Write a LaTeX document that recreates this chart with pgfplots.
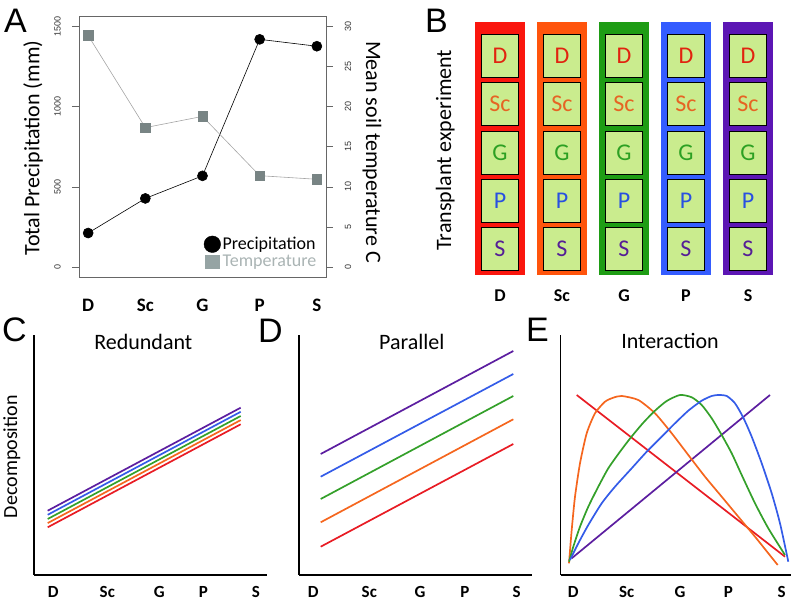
\documentclass[border=0pt]{standalone}
\usepackage{fontspec}
\setmainfont{Carlito}
\newfontfamily\arialf{Liberation Sans}
\usepackage{pgfplots}
\pgfplotsset{compat=1.18}
\newcommand\fs[1]{\fontsize{#1}{#1}\selectfont}

% line colours (C, D, E)
\definecolor{cR}{RGB}{232,28,36}
\definecolor{cO}{RGB}{245,102,30}
\definecolor{cG}{RGB}{52,160,42}
\definecolor{cB}{RGB}{52,92,232}
\definecolor{cP}{RGB}{92,30,160}
% columns in B
\definecolor{bR}{RGB}{250,22,14}
\definecolor{bO}{RGB}{255,84,12}
\definecolor{bG}{RGB}{30,156,20}
\definecolor{bB}{RGB}{52,92,255}
\definecolor{bP}{RGB}{92,22,180}
\definecolor{boxg}{RGB}{202,236,142}
% letters in B
\definecolor{lD}{RGB}{225,35,15}
\definecolor{lSc}{RGB}{230,100,35}
\definecolor{lG}{RGB}{45,160,35}
\definecolor{lP}{RGB}{40,80,225}
\definecolor{lS}{RGB}{85,30,150}
% panel A
\definecolor{tmark}{RGB}{120,132,132}
\definecolor{tline}{RGB}{165,165,165}
\definecolor{tleg}{RGB}{150,164,164}
\definecolor{tlegtext}{RGB}{170,180,180}

\pgfplotsset{
  concept/.style={scale only axis, width=232.4pt, height=240pt,
    xmin=0, xmax=232.4, ymin=0, ymax=240,
    axis x line*=bottom, axis y line*=left,
    axis line style={line width=1.8pt, -},
    xtick style={draw=none}, ytick=\empty, xticklabels={D,Sc,G,P,S},
    xticklabel style={font=\fs{17}\bfseries, yshift=-7.5pt},
    title style={font=\fs{22}, anchor=center}, clip=false},
  cl/.style={line width=1.7pt, line join=round},
  row/.style={only marks, mark=square*, mark size=18.3pt,
    mark options={yscale=1.172, fill=boxg, draw=black, line width=0.8pt},
    nodes near coords={#1}, point meta=explicit symbolic,
    every node near coord/.append style={anchor=center, font=\fs{24}}},
  rticks/.style={tick align=outside, major tick length=7pt,
    ytick style={black!60, line width=0.7pt},
    /pgf/number format/.cd, 1000 sep={}, assume math mode=true},
}

\begin{document}
\begin{tikzpicture}[x=1pt,y=1pt]
\useasboundingbox (0,0) rectangle (793,601);
\coordinate (pA) at (79,324);
\coordinate (pB) at (469,322.8);
\coordinate (pC) at (34.3,26);
\coordinate (pD) at (299.3,26);
\coordinate (pE) at (560.5,26);

% ---------------- A: precipitation (left scale) ----------------
\begin{axis}[at={(pA)}, anchor=south west, scale only axis,
  width=247pt, height=261pt,
  xmin=0.84, xmax=5.16, ymin=-62.4, ymax=1566.8,
  axis line style={black!60, line width=0.7pt},
  xtick={1,...,5}, xticklabels={D,Sc,G,P,S}, xtick style={draw=none},
  xticklabel style={font=\fs{19}\bfseries, yshift=-12pt},
  ytick={0,500,1000,1500}, ytick pos=left, rticks,
  yticklabel style={xshift=-14.5pt, rotate=90, anchor=center, font=\arialf\fs{9}, text=black!80},
  ylabel={Total Precipitation (mm)},
  ylabel style={font=\fs{22}, at={(axis description cs:-0.186,0.494)}, anchor=center},
  clip=false]
\addplot[black, line width=0.6pt, mark=*, mark size=5pt]
  coordinates {(1,212) (2,428) (3,569) (4,1421) (5,1378)};
\end{axis}

% ---------------- A: temperature (right scale) ----------------
\begin{axis}[at={(pA)}, anchor=south west, scale only axis,
  width=247pt, height=261pt,
  xmin=0.84, xmax=5.16, ymin=-1.248, ymax=31.336,
  axis x line=none, axis y line*=right,
  axis line style={black!60, line width=0.7pt, -},
  ytick={0,5,...,30}, rticks,
  yticklabel style={xshift=15pt, rotate=90, anchor=center, font=\arialf\fs{9}, text=black!80},
  ylabel={Mean soil temperature C},
  ylabel style={font=\fs{22}, at={(axis description cs:1.186,0.479)}, anchor=center, rotate=180},
  legend style={draw=none, fill=none, at={(axis description cs:0.97,0.025)},
    anchor=south east, font=\fs{18}, row sep=0pt, inner sep=0pt},
  legend cell align=left,
  clip=false]
\addplot[tline, line width=0.6pt, mark=square*, mark size=4.7pt,
  mark options={fill=tmark, draw=tmark}, forget plot]
  coordinates {(1,28.9) (2,17.4) (3,18.8) (4,11.4) (5,10.95)};
\addlegendimage{only marks, mark=*, mark size=8.3pt, black}
\addlegendentry{Precipitation}
\addlegendimage{only marks, mark=square*, mark size=6.7pt, color=tleg}
\addlegendentry{\textcolor{tlegtext}{Temperature}}
\end{axis}

% ---------------- B: transplant design ----------------
\begin{axis}[at={(pB)}, anchor=south west, scale only axis,
  width=310pt, height=261.1pt,
  xmin=0.5, xmax=5.5, ymin=0.4, ymax=5.8,
  axis line style={draw=none},
  xtick={1,...,5}, xticklabels={D,Sc,G,P,S}, xtick style={draw=none}, ytick=\empty,
  xticklabel style={font=\fs{18}\bfseries, yshift=-8pt},
  ylabel={Transplant experiment},
  ylabel style={font=\fs{22}, at={(axis description cs:-0.077,0.491)}, anchor=center},
  clip=false]
\addplot[fill=bR, draw=none] coordinates {(0.597,0.47) (1.403,0.47) (1.403,5.7) (0.597,5.7)};
\addplot[fill=bO, draw=none] coordinates {(1.597,0.47) (2.403,0.47) (2.403,5.7) (1.597,5.7)};
\addplot[fill=bG, draw=none] coordinates {(2.597,0.47) (3.403,0.47) (3.403,5.7) (2.597,5.7)};
\addplot[fill=bB, draw=none] coordinates {(3.597,0.47) (4.403,0.47) (4.403,5.7) (3.597,5.7)};
\addplot[fill=bP, draw=none] coordinates {(4.597,0.47) (5.403,0.47) (5.403,5.7) (4.597,5.7)};
\addplot[row=D, every node near coord/.append style={text=lD}]
  coordinates {(1,5) (2,5) (3,5) (4,5) (5,5)};
\addplot[row=Sc, every node near coord/.append style={text=lSc}]
  coordinates {(1,4) (2,4) (3,4) (4,4) (5,4)};
\addplot[row=G, every node near coord/.append style={text=lG}]
  coordinates {(1,3) (2,3) (3,3) (4,3) (5,3)};
\addplot[row=P, every node near coord/.append style={text=lP}]
  coordinates {(1,2) (2,2) (3,2) (4,2) (5,2)};
\addplot[row=S, every node near coord/.append style={text=lS}]
  coordinates {(1,1) (2,1) (3,1) (4,1) (5,1)};
\end{axis}

% ---------------- C: redundant ----------------
\begin{axis}[concept, at={(pC)}, anchor=south west,
  xtick={19,73,125,169,221.7},
  title={Redundant}, title style={at={(axis description cs:0.469,0.948)}},
  ylabel={Decomposition},
  ylabel style={font=\fs{20}, at={(axis description cs:-0.097,0.493)}, anchor=center}]
\addplot[cl, cR] coordinates {(13.4,47.7) (206.4,150.7)};
\addplot[cl, cO] coordinates {(13.4,51.9) (206.4,154.9)};
\addplot[cl, cG] coordinates {(13.4,56.0) (206.4,159.0)};
\addplot[cl, cB] coordinates {(13.4,60.2) (206.4,163.2)};
\addplot[cl, cP] coordinates {(13.4,64.3) (206.4,167.3)};
\end{axis}

% ---------------- D: parallel ----------------
\begin{axis}[concept, at={(pD)}, anchor=south west,
  xtick={14,70,120.7,165.7,217.4},
  title={Parallel}, title style={at={(axis description cs:0.484,0.946)}}]
\addplot[cl, cR] coordinates {(21.4,28.3) (214,131)};
\addplot[cl, cO] coordinates {(21.4,52.7) (214,155.7)};
\addplot[cl, cG] coordinates {(21.4,76) (214,179)};
\addplot[cl, cB] coordinates {(21.4,98.3) (214,201)};
\addplot[cl, cP] coordinates {(21.4,121) (214,224)};
\end{axis}

% ---------------- E: interaction ----------------
\begin{axis}[concept, at={(pE)}, anchor=south west, width=230pt, xmax=230,
  xtick={12.8,66.2,119.5,167.8,221.2},
  title={Interaction}, title style={at={(axis description cs:0.476,0.951)}}]
\addplot[cl, cR] coordinates {(16.2,180) (224.5,18.3)};
\addplot[cl, cP] coordinates {(11.2,16.7) (209.5,180)};
\addplot[cl, cO, smooth, tension=0.4] coordinates {
  (8.5,11.7) (11.2,45) (14.5,78.3) (19.5,111.7) (26.2,141.7) (34.5,161.7)
  (44.5,173.3) (52.8,177.3) (61.2,179) (77.8,175) (94.5,161.7) (111.2,141.7)
  (127.8,120) (144.5,98.3) (161.2,78.3) (177.8,58.3) (194.5,38.3) (207.8,21.7) (217.2,10)};
\addplot[cl, cG, smooth, tension=0.4] coordinates {
  (8.5,13.3) (12.8,28.3) (19.5,48.3) (27.8,68.3) (37.8,88.3) (47.8,106.7)
  (59.5,123.3) (70.5,137.7) (82.8,152.3) (94.5,164.3) (106.2,174) (119.5,180)
  (131.2,177.7) (141.2,170) (151.2,156.7) (161.2,140) (171.2,121.7) (181.2,100)
  (194.5,71.7) (207.8,46.7) (224.5,20)};
\addplot[cl, cB, smooth, tension=0.4] coordinates {
  (9.5,15) (17.8,31.7) (27.8,50) (41.2,71.7) (54.5,88.3) (71.2,106.7)
  (86.2,123.3) (101.2,138.3) (114.5,151.7) (127.8,164.3) (141.2,174.3)
  (151.2,179) (157.8,180) (166.2,179) (174.5,171.7) (182.8,157.3) (191.2,138.3)
  (201.2,111.7) (211.2,81.7) (219.5,51.7) (227.8,13.3)};
\end{axis}

% panel letters
\node[font=\arialf\fs{34}, inner sep=0pt] at (15.5,580.5) {A};
\node[font=\arialf\fs{34}, inner sep=0pt] at (436.5,580.5) {B};
\node[font=\arialf\fs{34}, inner sep=0pt] at (14.5,271) {C};
\node[font=\arialf\fs{34}, inner sep=0pt] at (270.5,270) {D};
\node[font=\arialf\fs{34}, inner sep=0pt] at (537.5,271) {E};
\end{tikzpicture}
\end{document}
